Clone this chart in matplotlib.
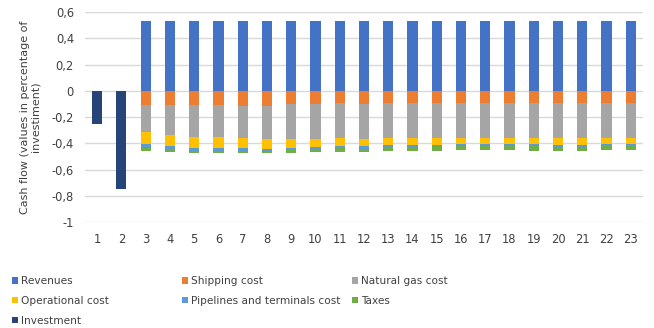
import numpy as np
import matplotlib
matplotlib.use("Agg")
import matplotlib.pyplot as plt

years = list(range(1, 24))

# values as fractions of investment (costs negative)
revenues = [0, 0] + [0.53] * 21
shipping = [0, 0, 0.105, 0.105, 0.105, 0.105, 0.113, 0.113, 0.097, 0.097, 0.090, 0.097,
            0.090, 0.090, 0.090, 0.090, 0.090, 0.090, 0.090, 0.090, 0.090, 0.090, 0.090]
natural_gas = [0, 0, 0.208, 0.231, 0.246, 0.246, 0.246, 0.254, 0.270, 0.270, 0.269, 0.270,
               0.269, 0.269, 0.269, 0.269, 0.269, 0.269, 0.269, 0.269, 0.269, 0.269, 0.269]
operational = [0, 0, 0.092, 0.085, 0.085, 0.085, 0.077, 0.077, 0.069, 0.061, 0.062, 0.054,
               0.054, 0.054, 0.054, 0.046, 0.046, 0.046, 0.046, 0.054, 0.054, 0.046, 0.046]
pipelines = [0, 0, 0.031, 0.023, 0.023, 0.023, 0.023, 0.015, 0.015, 0.023, 0.015, 0.023,
             0.015, 0.015, 0.008, 0.016, 0.016, 0.008, 0.016, 0.015, 0.015, 0.016, 0.008]
taxes = [0, 0, 0.023, 0.023, 0.015, 0.015, 0.015, 0.015, 0.023, 0.016, 0.031, 0.023,
         0.031, 0.031, 0.038, 0.030, 0.030, 0.038, 0.038, 0.031, 0.031, 0.030, 0.038]
investment = [-0.25, -0.75] + [0] * 21

yticks = [0.6, 0.4, 0.2, 0, -0.2, -0.4, -0.6, -0.8, -1]
ytick_labels = ["0,6", "0,4", "0,2", "0", "-0,2", "-0,4", "-0,6", "-0,8", "-1"]

plt.rcParams["font.family"] = ["DejaVu Sans"]
fig = plt.figure(figsize=(6.54, 3.28), dpi=100)
ax = fig.add_axes([0.13, 0.323, 0.853, 0.64])

x = np.array(years)
w = 0.42
handles = {}
handles["Revenues"] = ax.bar(x, revenues, w, color="#4472C4", zorder=3)
neg_series = [
    (shipping, "#ED7D31", "Shipping cost"),
    (natural_gas, "#A5A5A5", "Natural gas cost"),
    (operational, "#FFC000", "Operational cost"),
    (pipelines, "#5B9BD5", "Pipelines and terminals cost"),
    (taxes, "#70AD47", "Taxes"),
]
bottom = np.zeros(len(years))
for vals, col, lab in neg_series:
    v = -np.array(vals)
    handles[lab] = ax.bar(x, v, w, bottom=bottom, color=col, zorder=3)
    bottom += v
handles["Investment"] = ax.bar(x, investment, w, color="#264478", zorder=3)

ax.set_xlim(0.5, 23.5)
ax.set_ylim(-1, 0.6)
ax.set_xticks(x)
ax.set_xticklabels([str(y) for y in years], fontsize=8.3, color="#404040")
ax.set_yticks(yticks)
ax.set_yticklabels(ytick_labels, fontsize=8.3, color="#404040")
ax.tick_params(length=0, pad=8)
ax.grid(axis="y", color="#D9D9D9", linewidth=1, zorder=0)
for s in ax.spines.values():
    s.set_visible(False)
ax.set_ylabel("Cash flow (values in percentage of\ninvestiment)", fontsize=8,
              color="#404040", labelpad=8, linespacing=1.0)

# three legend columns placed like the original
cols = [(["Revenues", "Operational cost", "Investment"], 0.012),
        (["Shipping cost", "Pipelines and terminals cost"], 0.272),
        (["Natural gas cost", "Taxes"], 0.532)]
for names, xpos in cols:
    leg = fig.legend([handles[n] for n in names], names, loc="upper left",
                     bbox_to_anchor=(xpos, 0.171), frameon=False, fontsize=7.6,
                     handlelength=0.55, handleheight=0.55, handletextpad=0.25,
                     labelspacing=0.92, borderaxespad=0)
    for t in leg.get_texts():
        t.set_color("#404040")

fig.savefig("out.png", dpi=100, facecolor="white")
